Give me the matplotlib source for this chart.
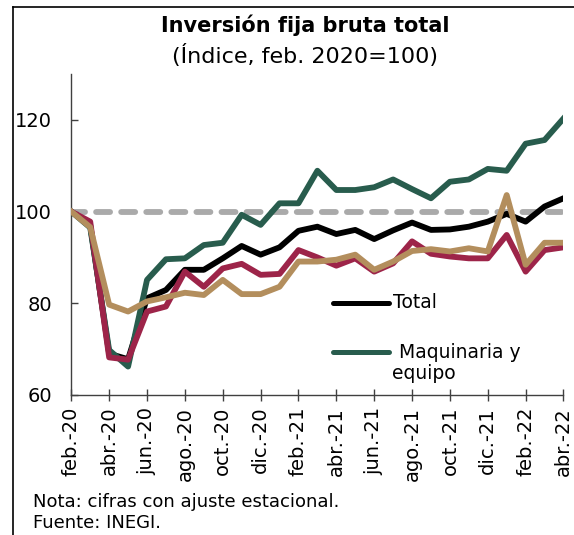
import numpy as np
import matplotlib
matplotlib.use("Agg")
import matplotlib.pyplot as plt
from matplotlib.lines import Line2D

# monthly data, feb-2020 .. abr-2022 (index feb 2020 = 100)
months = ["feb.-20", "mar.-20", "abr.-20", "may.-20", "jun.-20", "jul.-20", "ago.-20",
          "sep.-20", "oct.-20", "nov.-20", "dic.-20", "ene.-21", "feb.-21", "mar.-21",
          "abr.-21", "may.-21", "jun.-21", "jul.-21", "ago.-21", "sep.-21", "oct.-21",
          "nov.-21", "dic.-21", "ene.-22", "feb.-22", "mar.-22", "abr.-22"]

total = [100.0, 97.0, 69.0, 67.8, 81.1, 82.9, 87.3, 87.3, 89.8, 92.5, 90.6, 92.2, 95.8, 96.7,
         95.1, 96.0, 94.0, 95.9, 97.6, 96.0, 96.1, 96.7, 97.8, 99.5, 97.8, 101.1, 102.9]
maquinaria = [100.0, 96.5, 69.8, 66.2, 85.1, 89.6, 89.8, 92.7, 93.2, 99.3, 97.1, 101.8, 101.8,
              108.9, 104.7, 104.7, 105.3, 107.0, 104.9, 102.9, 106.5, 107.0, 109.3, 108.9,
              114.8, 115.6, 120.3]
serie_guinda = [100.0, 97.8, 68.2, 67.7, 78.2, 79.3, 86.9, 83.6, 87.6, 88.6, 86.2, 86.4, 91.6,
                90.0, 88.2, 89.8, 86.9, 88.7, 93.5, 90.8, 90.2, 89.8, 89.8, 94.9, 86.9, 91.6, 92.2]
serie_dorada = [100.0, 96.6, 79.7, 78.2, 80.4, 81.3, 82.3, 81.8, 85.1, 82.0, 82.0, 83.6, 89.1,
                89.1, 89.5, 90.6, 87.3, 89.1, 91.4, 91.8, 91.3, 92.0, 91.3, 103.6, 88.4, 93.2, 93.2]

plt.rcParams['font.family'] = ['DejaVu Sans']

fig = plt.figure(figsize=(5.74, 5.35), dpi=100)
ax = fig.add_axes([0.1242, 0.2617, 0.8575, 0.6])

x = np.arange(len(months))
lw = 4.2
ax.axhline(100, color="#aaaaaa", lw=lw, dashes=(2.4, 1.9), dash_capstyle="round", zorder=1)
ax.plot(x, total, color="black", lw=lw, solid_joinstyle="round", zorder=2)
ax.plot(x, maquinaria, color="#285C4D", lw=lw, solid_joinstyle="round", zorder=3)
ax.plot(x, serie_guinda, color="#9D2449", lw=lw, solid_joinstyle="round", zorder=4)
ax.plot(x, serie_dorada, color="#B38E5D", lw=lw, solid_joinstyle="round", zorder=5)

ax.set_xlim(0, len(months) - 1)
ax.set_ylim(60, 130)
ax.set_yticks([60, 80, 100, 120])
ax.set_xticks(x[::2])
ax.set_xticklabels(months[::2], rotation=90)

for s in ["top", "right"]:
    ax.spines[s].set_visible(False)
for s in ["left", "bottom"]:
    ax.spines[s].set_color("#404040")
    ax.spines[s].set_linewidth(1.0)
ax.tick_params(axis="y", direction="in", length=5, width=1, color="#404040", pad=14, labelsize=14)
ax.tick_params(axis="x", direction="inout", length=9, width=1, color="#404040", pad=4, labelsize=14)

# legend drawn by hand (wrapped label)
ax.plot([0.5313, 0.6451], [0.2875, 0.2875], transform=ax.transAxes, color="black",
        lw=3.6, solid_capstyle="round", clip_on=False)
ax.text(0.6536, 0.2875, "Total", transform=ax.transAxes, fontsize=13.5, va="center", ha="left")
ax.plot([0.5313, 0.6451], [0.1349, 0.1349], transform=ax.transAxes, color="#285C4D",
        lw=3.6, solid_capstyle="round", clip_on=False)
ax.text(0.6658, 0.1318, "Maquinaria y", transform=ax.transAxes, fontsize=13.5, va="center", ha="left")
ax.text(0.6516, 0.0654, "equipo", transform=ax.transAxes, fontsize=13.5, va="center", ha="left")

fig.text(305 / 574, 1 - 25 / 535, "Inversión fija bruta total", ha="center", va="center",
         fontsize=15, fontweight="bold")
fig.text(305 / 574, 1 - 55 / 535, "(Índice, feb. 2020=100)", ha="center", va="center", fontsize=16)

fig.text(33 / 574, 1 - 502 / 535, "Nota: cifras con ajuste estacional.", ha="left", va="center", fontsize=13)
fig.text(33 / 574, 1 - 523 / 535, "Fuente: INEGI.", ha="left", va="center", fontsize=13)

# frame of the original picture (left and top edges)
fig.add_artist(Line2D([13 / 574, 13 / 574], [0, 1 - 7 / 535], transform=fig.transFigure, color="black", lw=1.2))
fig.add_artist(Line2D([13 / 574, 1], [1 - 7 / 535, 1 - 7 / 535], transform=fig.transFigure, color="black", lw=1.2))

fig.savefig("out.png", dpi=100)
